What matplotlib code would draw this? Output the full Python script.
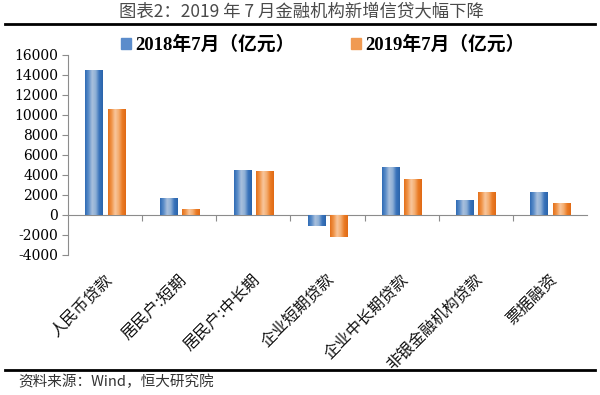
import numpy as np
import matplotlib
matplotlib.use("Agg")
import matplotlib.pyplot as plt
from matplotlib.colors import LinearSegmentedColormap
from matplotlib.font_manager import FontProperties
from matplotlib.lines import Line2D
import matplotlib.transforms as mtransforms

plt.rcParams['font.family'] = ['Noto Sans CJK SC', 'DejaVu Sans']

categories = ["人民币贷款", "居民户:短期", "居民户:中长期", "企业短期贷款",
              "企业中长期贷款", "非银金融机构贷款", "票据融资"]
series_names = ["2018年7月（亿元）", "2019年7月（亿元）"]
values_2018 = [14500, 1730, 4530, -1070, 4830, 1530, 2330]
values_2019 = [10600, 600, 4430, -2170, 3630, 2330, 1230]
yticks = list(range(-4000, 16001, 2000))
title = "图表2：2019 年 7 月金融机构新增信贷大幅下降"
source = "资料来源：Wind，恒大研究院"

fig = plt.figure(figsize=(6.0, 3.95), dpi=100)
fig.patch.set_facecolor("white")
ax = fig.add_axes([68/600, (395-255)/395, (587-68)/600, 200/395])

blue_cmap = LinearSegmentedColormap.from_list(
    "b", ["#2f6cb5", "#5d8ec9", "#a9c0dc", "#8fb0d6", "#3a74bb", "#2a64ab"])
orange_cmap = LinearSegmentedColormap.from_list(
    "o", ["#e4701a", "#f0954a", "#f8c69c", "#f4ad70", "#ea7b25", "#e06a15"])

x = np.arange(len(categories))
w = 0.23
off = 0.15
grad = np.linspace(0, 1, 64).reshape(1, -1)
for vals, sign, cmap, mid in [(values_2018, -1, blue_cmap, "#5b8ccb"),
                               (values_2019, 1, orange_cmap, "#f09a52")]:
    bars = ax.bar(x + sign*off, vals, width=w, color=mid, zorder=2)
    for b in bars:
        x0, y0 = b.get_x(), b.get_y()
        bw, bh = b.get_width(), b.get_height()
        im = ax.imshow(grad, cmap=cmap, aspect="auto",
                       extent=[x0, x0+bw, min(y0, y0+bh), max(y0, y0+bh)],
                       zorder=3, interpolation="bilinear")
        im.set_clip_path(b)

ax.set_xlim(-0.5, len(categories)-0.5)
ax.set_ylim(yticks[0], yticks[-1])
ax.set_yticks(yticks)
ax.set_yticklabels([str(t) for t in yticks], family=["DejaVu Serif"], fontsize=10)
ax.set_xticks(np.arange(0.5, len(categories)-1, 1.0))
ax.set_xticklabels([])
for s in ["top", "right"]:
    ax.spines[s].set_visible(False)
ax.spines["bottom"].set_position(("data", 0))
ax.spines["bottom"].set_color("#8c8c8c")
ax.spines["left"].set_color("#8c8c8c")
ax.tick_params(axis="y", direction="out", length=4, color="#8c8c8c", pad=3)
ax.tick_params(axis="x", direction="out", length=4, color="#8c8c8c")

trans = mtransforms.blended_transform_factory(ax.transData, ax.transAxes)
for i, c in enumerate(categories):
    ax.text(i + 0.06, -0.11, c, transform=trans, rotation=45,
            rotation_mode="anchor", ha="right", va="center", fontsize=11.5,
            color="#111111")

# legend
leg_font = FontProperties(family=["Liberation Serif", "Noto Sans CJK SC"],
                          weight="bold", size=13.5)
handles = [plt.Rectangle((0, 0), 1, 1, color="#5b8ccb"),
           plt.Rectangle((0, 0), 1, 1, color="#f09a52")]
fig.legend(handles, series_names, loc="center", ncol=2,
           bbox_to_anchor=(323/600, 1-45/395), frameon=False, prop=leg_font,
           handlelength=0.5, handleheight=0.5, handletextpad=0.25,
           columnspacing=3.0)

# title and rules
fig.text(0.502, 1-11/395, title, ha="center", va="center", fontsize=12.5,
         color="#4a4a4a")
fig.add_artist(Line2D([5/600, 595/600], [1-24/395, 1-24/395],
                      transform=fig.transFigure, color="black", lw=2))
fig.add_artist(Line2D([5/600, 595/600], [1-370/395, 1-370/395],
                      transform=fig.transFigure, color="black", lw=2))
fig.text(18/600, 1-382/395, source, ha="left", va="center", fontsize=10.5,
         style="italic", color="#333333")

fig.savefig("out.png", dpi=100, facecolor="white")
